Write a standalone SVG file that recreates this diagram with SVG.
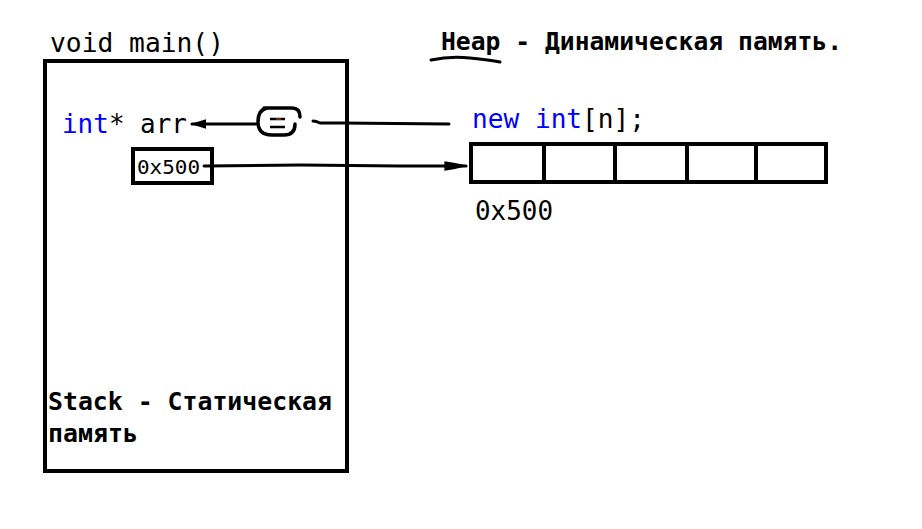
<svg xmlns="http://www.w3.org/2000/svg" width="922" height="529" viewBox="0 0 922 529">
<style>
.m{font-family:"DejaVu Sans Mono","Liberation Mono",monospace;font-size:26px;fill:#000}
.b{font-family:"DejaVu Sans Mono","Liberation Mono",monospace;font-size:24.5px;font-weight:bold;fill:#000}
.kw{fill:#0000ff}
.box{fill:none;stroke:#000;stroke-width:4}
.ln{fill:none;stroke:#000;stroke-width:3;stroke-linecap:round}
</style>
<defs>
<marker id="ah" viewBox="0 0 10 10" refX="9" refY="5" markerWidth="16" markerHeight="12" preserveAspectRatio="none" orient="auto" markerUnits="userSpaceOnUse">
<path d="M0,1 L10,5 L0,9 Z" fill="#000"/>
</marker>
<marker id="ah2" viewBox="0 0 10 10" refX="9" refY="5" markerWidth="24" markerHeight="12" preserveAspectRatio="none" orient="auto" markerUnits="userSpaceOnUse">
<path d="M0,1 Q4,2 10,5 Q4,8 0,9 Z" fill="#000"/>
</marker>
</defs>
<rect width="922" height="529" fill="#fff"/>
<g id="stack">
<text class="m" x="50" y="52" textLength="174" lengthAdjust="spacingAndGlyphs">void main()</text>
<rect class="box" x="45" y="61" width="302" height="410"/>
<text class="b" x="48" y="410" textLength="284" lengthAdjust="spacingAndGlyphs">Stack - Статическая</text>
<text class="b" x="48" y="442" textLength="90" lengthAdjust="spacingAndGlyphs">память</text>
</g>
<g id="arr">
<text class="m" x="62" y="133" textLength="125" lengthAdjust="spacingAndGlyphs"><tspan class="kw">int</tspan>* arr</text>
</g>
<g id="addr">
<rect class="box" x="133" y="149" width="79" height="34"/>
<text class="m" x="137" y="174" style="font-size:20px" textLength="63" lengthAdjust="spacingAndGlyphs">0x500</text>
</g>
<g id="assign">
<path class="ln" style="stroke-width:3.5" d="M267,108 Q258,110 258,122 Q258,135 272,135 L284,135 Q295,135 295,124 M264,108 L292,108 Q300,108 300,117"/>
<path d="M270,119 H285 M270,127 H285" stroke="#000" stroke-width="2.5"/>
<path d="M276,119 H281" stroke="#c06000" stroke-width="1"/>
</g>
<g id="heap">
<text class="b" x="441" y="50" textLength="401" lengthAdjust="spacingAndGlyphs">Heap - Динамическая память.</text>
<path class="ln" d="M431,60 Q450,56 470,58 Q490,60 500,62"/>
<text class="m" x="472" y="128" textLength="173" lengthAdjust="spacingAndGlyphs"><tspan class="kw">new int</tspan>[n];</text>
<rect class="box" x="471" y="144" width="355" height="38"/>
<path d="M544,144 V182 M615,144 V182 M687,144 V182 M756,144 V182" stroke="#000" stroke-width="4"/>
<text class="m" x="475" y="220" textLength="78" lengthAdjust="spacingAndGlyphs">0x500</text>
</g>
<g id="connectors">
<path class="ln" d="M449,124 L340,123 L320,123 Q316,121 313,121"/>
<path class="ln" d="M256,124 L192,124" marker-end="url(#ah)"/>
<path class="ln" d="M204,166 L300,165 L400,166 L466,166" marker-end="url(#ah2)"/>
</g>
</svg>
